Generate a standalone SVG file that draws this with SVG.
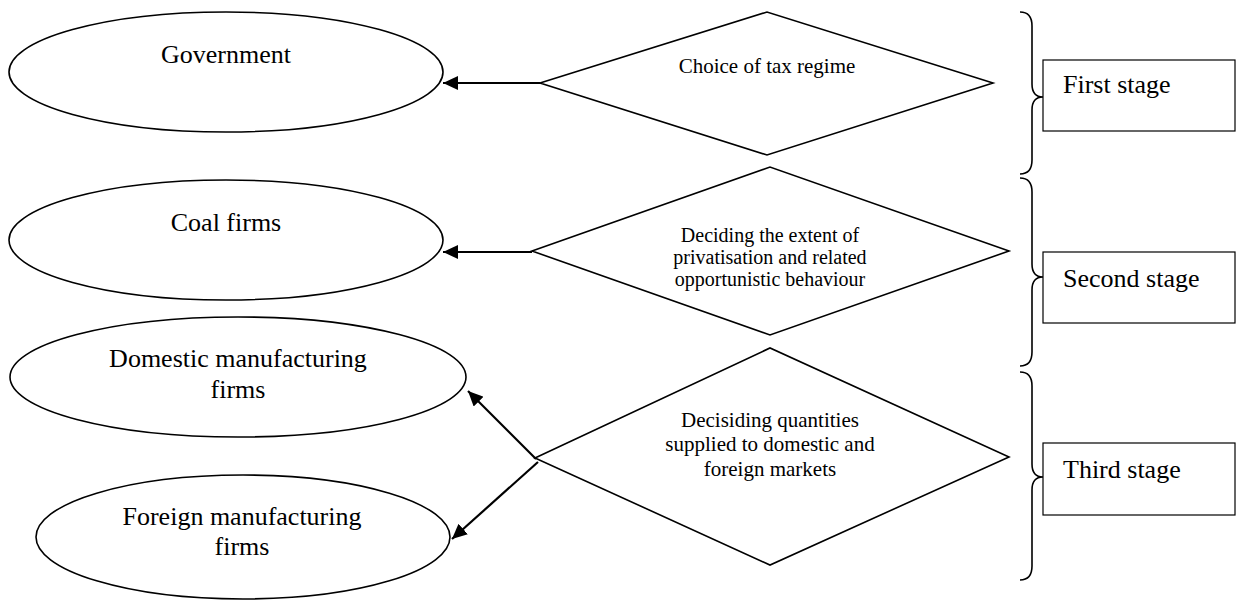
<svg xmlns="http://www.w3.org/2000/svg" width="1240" height="600" viewBox="0 0 1240 600">
<style>
.shape{fill:#fff;stroke:#000;stroke-width:1.6}
.box{fill:#fff;stroke:#000;stroke-width:1.2}
.brace{fill:none;stroke:#000;stroke-width:1.6}
.conn{fill:none;stroke:#000;stroke-width:2.2}
text{font-family:"Liberation Serif","Times New Roman",serif;fill:#000}
.big{font-size:26px}
.small{font-size:21px}
.tight{font-size:20px}
.c{text-anchor:middle}
</style>
<defs>
<marker id="ah" markerUnits="userSpaceOnUse" markerWidth="16" markerHeight="14" refX="15" refY="7" orient="auto">
<path d="M0,0 L15,7 L0,14 z" fill="#000"/>
</marker>
</defs>
<rect width="1240" height="600" fill="#fff"/>
<g id="government">
<ellipse class="shape" cx="226" cy="72" rx="217" ry="60"/>
<text class="big c" x="226" y="63">Government</text>
</g>
<g id="coal-firms">
<ellipse class="shape" cx="226" cy="240" rx="217" ry="60"/>
<text class="big c" x="226" y="231">Coal firms</text>
</g>
<g id="domestic-firms">
<ellipse class="shape" cx="238" cy="377" rx="228" ry="60"/>
<text class="big c" x="238" y="367">Domestic manufacturing</text>
<text class="big c" x="238" y="398">firms</text>
</g>
<g id="foreign-firms">
<ellipse class="shape" cx="243" cy="537" rx="207" ry="62"/>
<text class="big c" x="242" y="525">Foreign manufacturing</text>
<text class="big c" x="242" y="555">firms</text>
</g>
<g id="tax-regime">
<polygon class="shape" points="540,83 767,12 993,83 767,155"/>
<text class="small c" x="767" y="73">Choice of tax regime</text>
</g>
<g id="privatisation">
<polygon class="shape" points="532,251 770,167 1009,251 770,335"/>
<text class="tight c" x="770" y="242">Deciding the extent of</text>
<text class="tight c" x="770" y="264">privatisation and related</text>
<text class="tight c" x="770" y="286">opportunistic behaviour</text>
</g>
<g id="quantities">
<polygon class="shape" points="535,458 770,348 1009,457 770,565"/>
<text class="small c" x="770" y="427">Decisiding quantities</text>
<text class="small c" x="770" y="451">supplied to domestic and</text>
<text class="small c" x="770" y="476">foreign markets</text>
</g>
<g id="first-stage">
<path class="brace" d="M1020,12 Q1032,12 1032,26 L1032,84 Q1032,97 1043,97 Q1032,97 1032,110 L1032,160 Q1032,174 1020,174"/>
<rect class="box" x="1043" y="60" width="192" height="71"/>
<text class="big" x="1063" y="93">First stage</text>
</g>
<g id="second-stage">
<path class="brace" d="M1020,178 Q1032,178 1032,192 L1032,264 Q1032,277 1043,277 Q1032,277 1032,290 L1032,352 Q1032,366 1020,366"/>
<rect class="box" x="1043" y="252" width="192" height="71"/>
<text class="big" x="1063" y="287">Second stage</text>
</g>
<g id="third-stage">
<path class="brace" d="M1020,372 Q1032,372 1032,386 L1032,464 Q1032,477 1043,477 Q1032,477 1032,490 L1032,566 Q1032,580 1020,580"/>
<rect class="box" x="1043" y="443" width="192" height="72"/>
<text class="big" x="1063" y="478">Third stage</text>
</g>
<g id="connectors">
<line class="conn" x1="540" y1="83" x2="443" y2="83" marker-end="url(#ah)"/>
<line class="conn" x1="532" y1="252" x2="443" y2="252" marker-end="url(#ah)"/>
<line class="conn" x1="536" y1="459" x2="468" y2="391" marker-end="url(#ah)"/>
<line class="conn" x1="538" y1="462" x2="452" y2="539" marker-end="url(#ah)"/>
</g>
</svg>
